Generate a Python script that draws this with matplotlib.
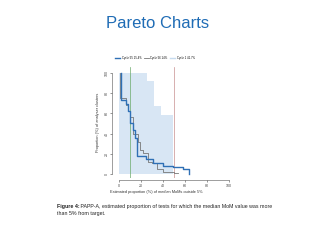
import matplotlib
matplotlib.use("Agg")
import matplotlib.pyplot as plt
from matplotlib.lines import Line2D

plt.rcParams['font.family'] = ['Liberation Sans', 'DejaVu Sans']

# step curves (x = % of median MoMs outside 5%, y = % of clusters)
blue_x = [2, 2, 6.5, 8.5, 10.5, 12.5, 14.5, 16.5, 24.5, 31, 40, 49.5, 58.5, 64, 64]
blue_y = [100, 73, 69, 62, 50, 44, 36, 18, 14.7, 10.8, 8.2, 6.9, 4.9, 4.9, 0.5]

grey_x = [1, 1, 6, 8, 10, 13, 17, 19, 22, 26, 30, 35, 40, 50, 54]
grey_y = [100, 75, 68, 62, 56, 40, 32, 24, 21, 12.4, 10.8, 4.9, 2.6, 1.2, 1.2]

shade_x = [0, 25.7, 31.5, 38, 49.5]
shade_y = [100, 92, 67.5, 58, 0]

labels = ["Cycle 55 15.4%", "Cycle 56 14%", "Cycle 1 41.7%"]
ticks = [0, 20, 40, 60, 80, 100]
green_x = 10
red_x = 50

fig = plt.figure(figsize=(3.2, 2.4), dpi=100)
ax = fig.add_axes([0.358, 0.2567, 0.371, 0.466])

ax.fill_between(shade_x, shade_y, step='post', color='#d8e6f4', lw=0)
ax.axvline(green_x, color='#6aaa6a', lw=0.5)
ax.axvline(red_x, color='#c89090', lw=0.5)
ax.step(grey_x, grey_y, where='post', color='#777777', lw=0.6)
ax.step(blue_x, blue_y, where='post', color='#2f70b5', lw=1.0)

ax.set_xlim(-4, 104)
ax.set_ylim(-4, 106)
ax.set_xticks(ticks)
ax.set_yticks(ticks)
for s in ['top', 'right']:
    ax.spines[s].set_visible(False)
for s in ['left', 'bottom']:
    ax.spines[s].set_bounds(0, 100)
    ax.spines[s].set_linewidth(0.4)
    ax.spines[s].set_color('#555555')
    ax.spines[s].set_position(('outward', 1.5))
ax.tick_params(length=1.5, width=0.4, labelsize=2.6, pad=1, colors='#444444')
for t in ax.get_yticklabels():
    t.set_rotation(90)
    t.set_va('center')

fig.text(156 / 320, 1 - 191.7 / 240, "Estimated proportion (%) of median MoMs outside 5%",
         ha='center', va='center', fontsize=2.8, color='#333333')
fig.text(98 / 320, 1 - 122 / 240, "Proportion (%) of analyser clusters",
         ha='center', va='center', rotation=90, fontsize=2.8, color='#333333')

handles = [Line2D([], [], color='#2f70b5', lw=1.0),
           Line2D([], [], color='#777777', lw=0.6),
           Line2D([], [], color='#c6dbef', lw=1.0)]
fig.legend(handles, labels, loc='center', bbox_to_anchor=(155 / 320, 1 - 57.5 / 240),
           ncol=3, fontsize=2.0, frameon=False, handlelength=1.8, columnspacing=1.0,
           handletextpad=0.5)

fig.text(158 / 320, 1 - 24 / 240, "Pareto Charts", ha='center', va='center',
         fontsize=12, color='#1f6cb5')

t1 = fig.text(56.7 / 320, 1 - 206.7 / 240, "Figure 4:", fontsize=3.8,
              fontweight='bold', va='center', color='#222222')
ax.annotate(" PAPP-A, estimated proportion of tests for which the median MoM value was more",
            xy=(1, 0.5), xycoords=t1, va='center', ha='left', fontsize=3.8, color='#222222',
            annotation_clip=False)
fig.text(56.7 / 320, 1 - 213 / 240, "than 5% from target.", fontsize=3.8,
         va='center', color='#222222')

fig.savefig("out.png", dpi=100)
